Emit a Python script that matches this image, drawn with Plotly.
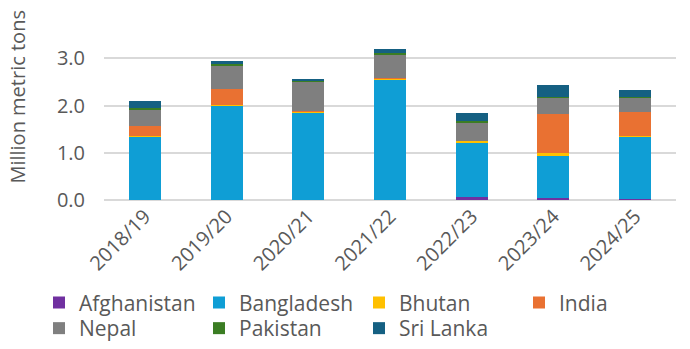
import plotly.graph_objects as go

years = ["2018/19", "2019/20", "2020/21", "2021/22", "2022/23", "2023/24", "2024/25"]
afghanistan = [0.005, 0.003, 0.003, 0.003, 0.055, 0.04, 0.03]
bangladesh = [1.335, 2.0, 1.85, 2.55, 1.17, 0.89, 1.31]
bhutan = [0.01, 0.01, 0.025, 0.02, 0.025, 0.06, 0.025]
india = [0.21, 0.34, 0.005, 0.005, 0.005, 0.83, 0.495]
nepal = [0.365, 0.5, 0.625, 0.5, 0.39, 0.34, 0.32]
pakistan = [0.03, 0.02, 0.03, 0.03, 0.025, 0.02, 0.01]
sri_lanka = [0.15, 0.08, 0.005, 0.09, 0.17, 0.25, 0.14]

series = [
    ("Afghanistan", afghanistan, "#7030A0", "legend"),
    ("Bangladesh", bangladesh, "#0F9ED5", "legend"),
    ("Bhutan", bhutan, "#FFC000", "legend"),
    ("India", india, "#E97132", "legend"),
    ("Nepal", nepal, "#7F7F7F", "legend2"),
    ("Pakistan", pakistan, "#3B7D23", "legend2"),
    ("Sri Lanka", sri_lanka, "#156082", "legend2"),
]

FONT = "Open Sans"
GREY = "#595959"

W, H = 690, 349
ML, MR, MT, MB = 20, 14, 30, 0
PW, PH = W - ML - MR, H - MT - MB
PLOT_LEFT, PLOT_BOTTOM = 104, 201


def px_x(px):
    return (px - ML) / PW


def px_y(py):
    return (H - MB - py) / PH


fig = go.Figure()
for name, vals, col, lg in series:
    fig.add_trace(go.Bar(x=years, y=vals, name=name, legend=lg,
                         marker=dict(color=col, line=dict(width=0))))

leg_common = dict(
    orientation="h", xanchor="left", yanchor="top",
    font=dict(family=FONT, size=21, color=GREY),
    entrywidth=115, entrywidthmode="pixels",
    itemwidth=30, tracegroupgap=0, traceorder="normal",
    bgcolor="rgba(0,0,0,0)", borderwidth=0,
)

fig.update_layout(
    barmode="stack",
    bargap=0.61,
    width=W, height=H,
    margin=dict(l=ML, r=MR, t=MT, b=MB),
    paper_bgcolor="white", plot_bgcolor="white",
    font=dict(family=FONT, size=20, color=GREY),
    showlegend=True,
    legend=dict(x=px_x(39), y=px_y(284), **leg_common),
    legend2=dict(x=px_x(39), y=px_y(310), **leg_common),
    xaxis=dict(domain=[px_x(PLOT_LEFT), 1], tickangle=-45,
               tickfont=dict(family=FONT, size=20, color=GREY), showgrid=False,
               showline=False, ticks="", automargin=False),
    yaxis=dict(domain=[px_y(PLOT_BOTTOM), 1], range=[0, 3.6], tickvals=[0, 1, 2, 3],
               tickformat=".1f",
               showgrid=True, gridcolor="#D9D9D9", gridwidth=1.5,
               zeroline=True, zerolinecolor="#D9D9D9", zerolinewidth=1.5,
               tickfont=dict(family=FONT, size=20, color=GREY), ticks="",
               ticklabelstandoff=18, automargin=False),
    annotations=[dict(text="Million metric tons", textangle=-90, xref="paper", yref="paper",
                      x=px_x(18), y=px_y(97), xanchor="center", yanchor="middle",
                      showarrow=False, font=dict(family=FONT, size=20, color=GREY))],
)

fig.write_html("out.html")
